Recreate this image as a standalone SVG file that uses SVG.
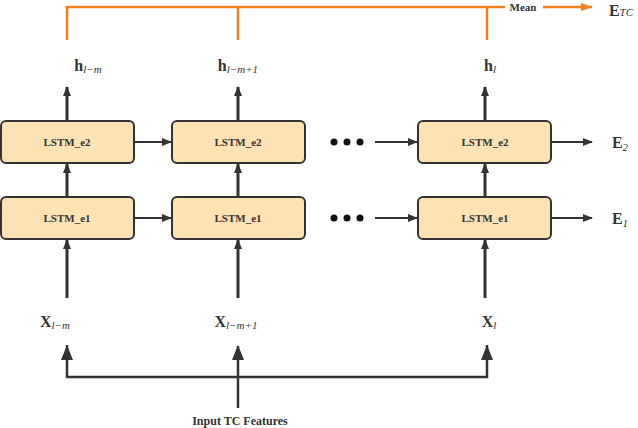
<svg xmlns="http://www.w3.org/2000/svg" width="638" height="428" viewBox="0 0 638 428">
<defs>
<marker id="ah" markerWidth="10" markerHeight="8" refX="9" refY="4" orient="auto" markerUnits="userSpaceOnUse"><path d="M0,0 L10,4 L0,8 Z" fill="#333"/></marker>
<marker id="ao" markerWidth="12" markerHeight="8" refX="11" refY="4" orient="auto" markerUnits="userSpaceOnUse"><path d="M0,0 L12,4 L0,8 Z" fill="#f08020"/></marker>
<style>
.box{fill:#fde2b4;stroke:#333;stroke-width:2}
.bt{font-family:"Liberation Serif",serif;font-weight:bold;font-size:11px;fill:#333;text-anchor:middle}
.c{stroke:#333;stroke-width:3;fill:none}
.o{stroke:#f08020;stroke-width:2.5;fill:none}
.m{font-family:"Liberation Serif",serif;font-size:16px;fill:#333;text-anchor:middle}
.s{font-size:11px;font-style:italic;font-weight:normal}
</style>
</defs>
<g id="connectors">
<path class="o" d="M67,40 V7 H545"/>
<path class="o" d="M238,40 V7"/>
<path class="o" d="M487,40 V7"/>
<path class="o" d="M542,7 H592" marker-end="url(#ao)"/>
<path class="c" d="M67,121 V87" marker-end="url(#ah)"/>
<path class="c" d="M238,121 V87" marker-end="url(#ah)"/>
<path class="c" d="M485,121 V87" marker-end="url(#ah)"/>
<path class="c" d="M67,197 V164" marker-end="url(#ah)"/>
<path class="c" d="M238,197 V164" marker-end="url(#ah)"/>
<path class="c" d="M485,197 V164" marker-end="url(#ah)"/>
<path class="c" d="M67,298 V240" marker-end="url(#ah)"/>
<path class="c" d="M238,298 V240" marker-end="url(#ah)"/>
<path class="c" d="M485,298 V240" marker-end="url(#ah)"/>
<path class="c" d="M135,142 H171" marker-end="url(#ah)" style="stroke-width:2"/>
<path class="c" d="M135,218 H171" marker-end="url(#ah)" style="stroke-width:2"/>
<path class="c" d="M375,142 H417" marker-end="url(#ah)" style="stroke-width:2"/>
<path class="c" d="M375,218 H417" marker-end="url(#ah)" style="stroke-width:2"/>
<path class="c" d="M552,142 H592" marker-end="url(#ah)" style="stroke-width:2"/>
<path class="c" d="M552,218 H592" marker-end="url(#ah)" style="stroke-width:2"/>
<path class="c" d="M67,345 V377 H487 V345" style="stroke-width:2.5"/>
<path class="c" d="M238,408 V346" style="stroke-width:2.5"/>
<path d="M61,360 L67,345 L73,360 Z M232,360 L238,345 L244,360 Z M481,360 L487,345 L493,360 Z" fill="#333"/>
<g fill="#111"><circle cx="334" cy="142" r="3.5"/><circle cx="347" cy="142" r="3.5"/><circle cx="360" cy="142" r="3.5"/><circle cx="334" cy="218" r="3.5"/><circle cx="347" cy="218" r="3.5"/><circle cx="360" cy="218" r="3.5"/></g>
</g>
<g id="n1e2"><rect class="box" x="1" y="121" width="133" height="42" rx="5"/><text class="bt" x="67" y="146">LSTM_e2</text></g>
<g id="n2e2"><rect class="box" x="172" y="121" width="133" height="42" rx="5"/><text class="bt" x="238" y="146">LSTM_e2</text></g>
<g id="n3e2"><rect class="box" x="418" y="121" width="133" height="42" rx="5"/><text class="bt" x="485" y="146">LSTM_e2</text></g>
<g id="n1e1"><rect class="box" x="1" y="197" width="133" height="42" rx="5"/><text class="bt" x="67" y="222">LSTM_e1</text></g>
<g id="n2e1"><rect class="box" x="172" y="197" width="133" height="42" rx="5"/><text class="bt" x="238" y="222">LSTM_e1</text></g>
<g id="n3e1"><rect class="box" x="418" y="197" width="133" height="42" rx="5"/><text class="bt" x="485" y="222">LSTM_e1</text></g>
<g id="labels">
<rect x="505" y="0" width="38" height="14" fill="#fff"/>
<text class="bt" x="523" y="11" style="font-size:11px">Mean</text>
<text class="m" x="621" y="16" font-weight="bold">E<tspan class="s" font-style="normal" font-weight="bold" font-size="10">TC</tspan></text>
<text class="m" x="620" y="148" font-weight="bold">E<tspan class="s" font-style="normal" dy="3">2</tspan></text>
<text class="m" x="620" y="224" font-weight="bold">E<tspan class="s" font-style="normal" dy="3" font-weight="bold">1</tspan></text>
<text class="m" x="88" y="71" font-weight="bold">h<tspan class="s" dy="2">l−m</tspan></text>
<text class="m" x="238" y="71" font-weight="bold">h<tspan class="s" dy="2">l−m+1</tspan></text>
<text class="m" x="490" y="71" font-weight="bold">h<tspan class="s" dy="2">l</tspan></text>
<text class="m" x="55" y="327" font-weight="bold">X<tspan class="s" dy="2">l−m</tspan></text>
<text class="m" x="236" y="327" font-weight="bold">X<tspan class="s" dy="2">l−m+1</tspan></text>
<text class="m" x="489" y="327" font-weight="bold">X<tspan class="s" dy="2">l</tspan></text>
<text class="bt" x="240" y="425" style="font-size:12px">Input TC Features</text>
</g>
</svg>
